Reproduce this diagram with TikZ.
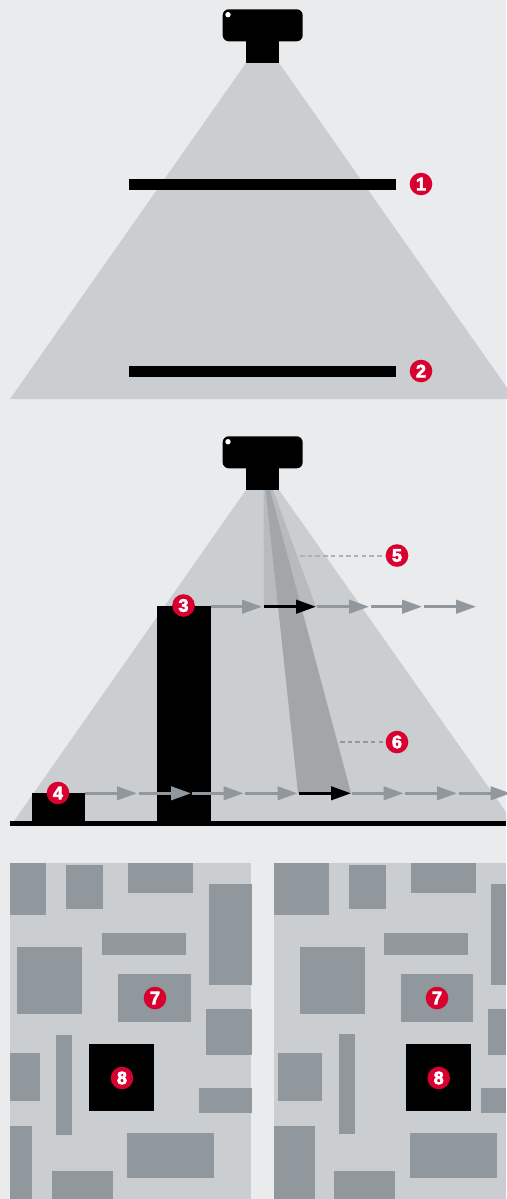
\documentclass[tikz,border=0pt]{standalone}
\usepackage{fontspec}
\setmainfont[BoldFeatures={FakeBold=3.5}]{Liberation Sans}
\usetikzlibrary{arrows.meta}
\definecolor{paper}{HTML}{E9EBED}
\definecolor{beam}{HTML}{CBCED1}
\definecolor{beammid}{HTML}{B7BBBE}
\definecolor{beamdark}{HTML}{A2A6A9}
\definecolor{block}{HTML}{90979D}
\definecolor{badgered}{HTML}{D7002E}
\tikzset{
  badge/.style={circle,fill=badgered,text=white,minimum size=22.6pt,inner sep=0pt,font=\fontsize{18}{18}\selectfont\bfseries},
  ray/.style={line width=2.8pt,-{Triangle[length=20pt,width=13.5pt]}},
  leader/.style={line width=2pt,dash pattern=on 4.5pt off 3.2pt},
}
\begin{document}
\begin{tikzpicture}[x=1pt,y=-1pt]
\useasboundingbox (0,0) rectangle (506,1199);
\fill[paper] (0,0) rectangle (506,1199);

% upper view
\fill[beam] (246,63) -- (279,63) -- (515,399) -- (10,399) -- cycle;
\fill (129,179) rectangle (396,190);
\fill (129,366) rectangle (396,377);

% side view
\fill[beam] (246,490) -- (279,490) -- (506,812) -- (506,821) -- (14,821) -- cycle;
\fill[beammid] (263.5,490) -- (273,490) -- (316,607) -- (264,607) -- cycle;
\fill[beamdark] (265.6,490) -- (270,490) -- (351,793) -- (298,793) -- cycle;
\fill (157,606) rectangle (210.5,821);
\fill (32,793) rectangle (85,821);
\fill (10,820.5) rectangle (506,826);

% cameras
\foreach \camy in {0,427} {
  \fill[rounded corners=6pt] (222.7,9.3+\camy) rectangle (302.7,41.3+\camy);
  \fill (246,40+\camy) rectangle (279,62.8+\camy);
  \fill[white] (228,14.7+\camy) circle (2.7);
}

% arrows
\foreach \xa/\xb in {210.5/262,317/369,370.5/422,424/476}
  \draw[ray,block] (\xa,606.7) -- (\xb,606.7);
\draw[ray,black] (264,606.7) -- (316,606.7);
\foreach \xa/\xb in {85/137,138.5/191,192/243.5,245/297.5,352/403.5,405/457,458.5/510.5}
  \draw[ray,block] (\xa,793.3) -- (\xb,793.3);
\draw[ray,black] (298.5,793.3) -- (351,793.3);

% left plan
\fill[beam] (10,863) rectangle (251,1199);
\foreach \xa/\ya/\xb/\yb in {10/863/46/915,66/865/103/909,128/863/193/893,209/884/252/985,
  102/933/186/955,17/947/82/1014,118/974/191/1022,206/1009/252/1055,56/1035/72/1135,
  10/1053/40/1101,199/1088/252/1113,10/1126/32/1199,127/1133/214/1178,52/1171/113/1199}
  \fill[block] (\xa,\ya) rectangle (\xb,\yb);
\fill (89,1044) rectangle (154,1111);

% right plan
\fill[beam] (274,863) rectangle (506,1199);
\foreach \xa/\ya/\xb/\yb in {274/863/329/915,349/865/386/909,411/863/476/893,491/884/506/985,
  384/933/468/955,300/947/365/1014,401/974/473/1022,488/1009/506/1055,339/1034/355/1134,
  278/1053/322/1101,481/1088/506/1113,274/1126/315/1199,410/1133/497/1178,334/1171/395/1199}
  \fill[block] (\xa,\ya) rectangle (\xb,\yb);
\fill (406,1044) rectangle (471,1111);

% leaders and badges
\coordinate (leadfive) at (300,555.5);
\coordinate (leadsix) at (340,742);
\node[badge] (one) at (421,184) {1};
\node[badge] (two) at (421,371) {2};
\node[badge] (three) at (183.5,605.5) {3};
\node[badge] (four) at (58,793) {4};
\node[badge] (five) at (397,555.5) {5};
\node[badge] (six) at (397,742) {6};
\node[badge] (sevenl) at (155,998) {7};
\node[badge] (eightl) at (122,1078) {8};
\node[badge] (sevenr) at (437,998) {7};
\node[badge] (eightr) at (438.7,1078) {8};
\draw[leader,beamdark!70!beam] (leadfive) -- (five);
\draw[leader,block] (leadsix) -- (six);
\end{tikzpicture}
\end{document}
